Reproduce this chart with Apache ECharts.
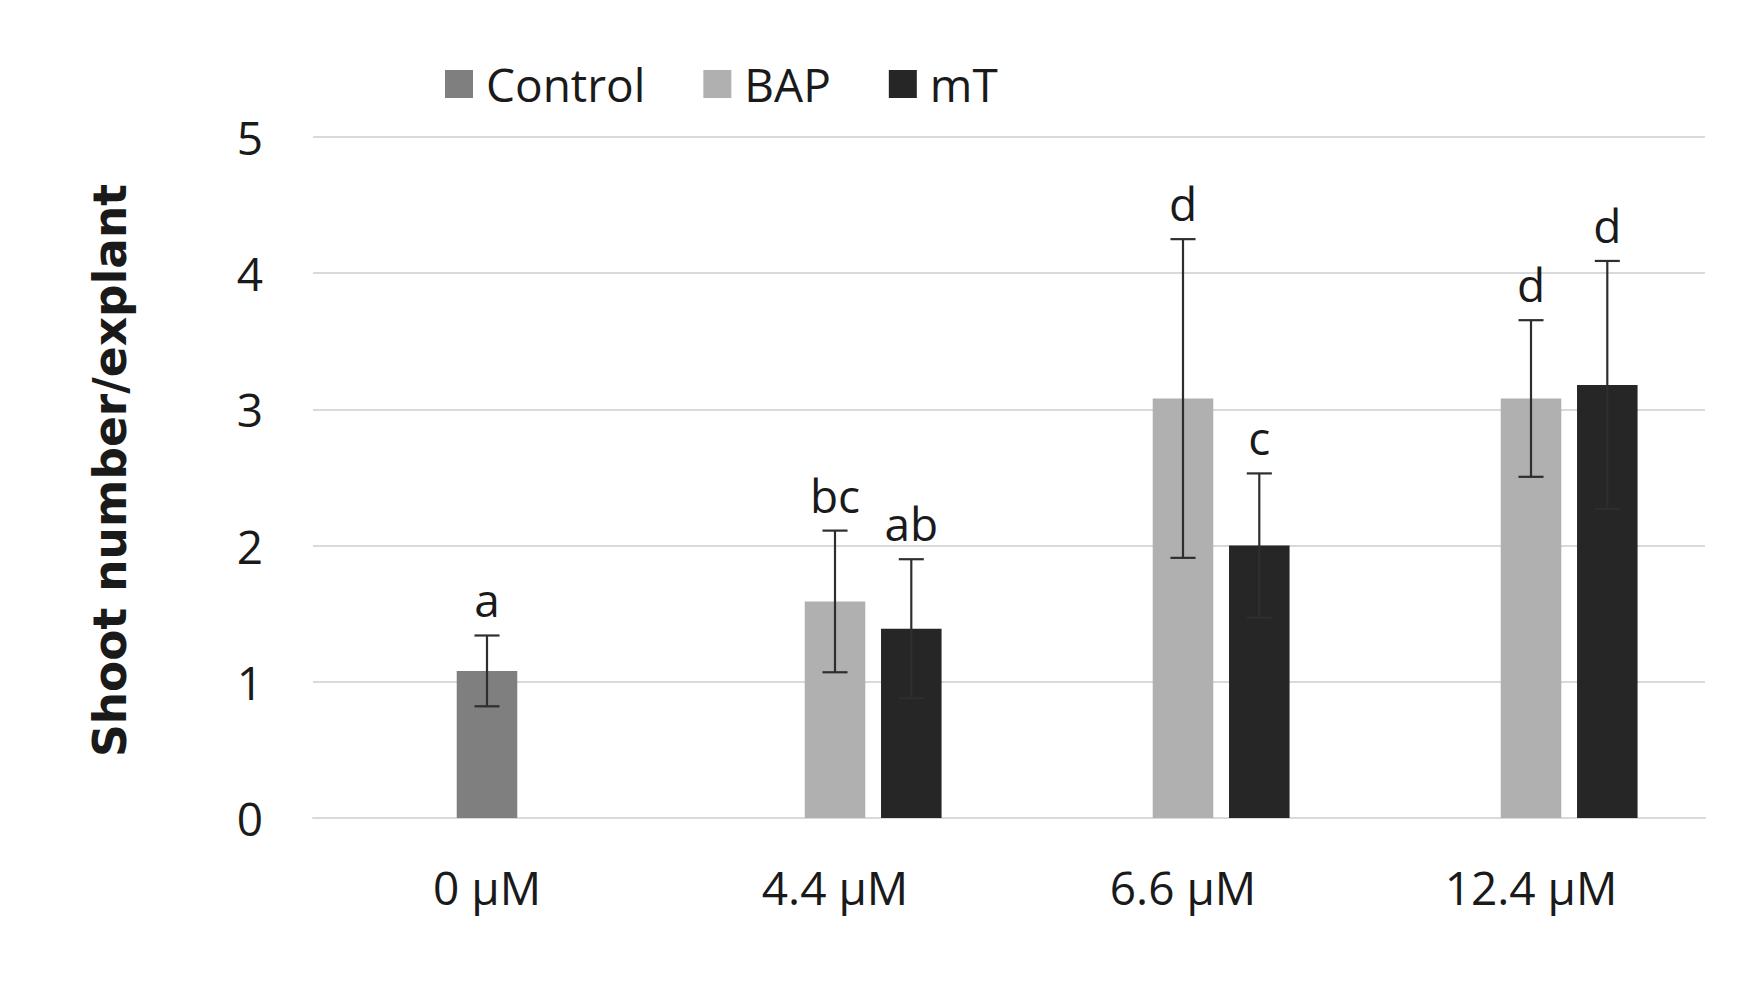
<!DOCTYPE html>
<html>
<head>
<meta charset="utf-8">
<script src="https://cdn.jsdelivr.net/npm/echarts@6/dist/echarts.min.js"></script>
<style>
html,body{margin:0;padding:0;background:#fff;}
#chart{width:1758px;height:984px;}
</style>
</head>
<body>
<div id="chart"></div>
<script>
// ---- data ----
var categories = ['0 µM', '4.4 µM', '6.6 µM', '12.4 µM'];
var yTicks = [0, 1, 2, 3, 4, 5];
var controlMean = [1.08, '-', '-', '-'];
var controlErr  = [0.26, null, null, null];
var controlLetters = ['a', '', '', ''];
var bapMean = ['-', 1.59, 3.08, 3.08];
var bapErr  = [null, 0.52, 1.17, 0.575];
var bapLetters = ['', 'bc', 'd', 'd'];
var mtMean = ['-', 1.39, 2.0, 3.18];
var mtErr  = [null, 0.51, 0.53, 0.91];
var mtLetters = ['', 'ab', 'c', 'd'];

// ---- style ----
var BAR_FRAC = 0.174;  // bar width as share of category band
var GAP_FRAC = 0.26;   // gap between bars as share of bar width
var FONT = '"Open Sans", "Noto Sans", sans-serif';
var FS = 46;

function errData(means, errs) {
  var out = [];
  for (var i = 0; i < means.length; i++) {
    if (typeof means[i] === 'number' && errs[i] != null) {
      out.push([i, means[i] - errs[i], means[i] + errs[i]]);
    }
  }
  return out;
}

function errRenderer(slot, letters) {
  return function (params, api) {
    var cat = api.value(0), lo = api.value(1), hi = api.value(2);
    var letter = letters[cat] || '';
    var band = api.size([1, 0])[0];
    var dx = slot * band * BAR_FRAC * (1 + GAP_FRAC);
    var pHi = api.coord([cat, hi]);
    var pLo = api.coord([cat, lo]);
    var x = pHi[0] + dx;
    var cap = band * 0.036;
    var st = { stroke: '#2e2e2e', lineWidth: 2.2 };
    return {
      type: 'group',
      children: [
        { type: 'line', shape: { x1: x, y1: pHi[1], x2: x, y2: pLo[1] }, style: st },
        { type: 'line', shape: { x1: x - cap, y1: pHi[1], x2: x + cap, y2: pHi[1] }, style: st },
        { type: 'line', shape: { x1: x - cap, y1: pLo[1], x2: x + cap, y2: pLo[1] }, style: st },
        { type: 'text', x: x, y: pHi[1] - 13,
          style: { x: 0, y: 0, text: letter, align: 'center', verticalAlign: 'bottom',
                   textAlign: 'center', textVerticalAlign: 'bottom',
                   font: FS + 'px ' + FONT, fontSize: FS, fontFamily: FONT, fill: '#1a1a1a' } }
      ]
    };
  };
}

var barW = (BAR_FRAC * 100) + '%';
var gapW = (GAP_FRAC * 100) + '%';
var chart = echarts.init(document.getElementById('chart'), null, { renderer: 'svg' });
chart.setOption({
  animation: false,
  backgroundColor: '#ffffff',
  legend: {
    data: ['Control', 'BAP', 'mT'],
    left: 440, top: 56,
    itemWidth: 28, itemHeight: 28, itemGap: 58,
    icon: 'rect',
    textStyle: { fontSize: FS, fontFamily: FONT, color: '#1a1a1a', padding: [0, 0, 0, 8] }
  },
  grid: { left: 313, right: 53, top: 137, bottom: 166, containLabel: false },
  xAxis: {
    type: 'category',
    data: categories,
    axisLine: { show: true, lineStyle: { color: '#d9d9d9', width: 2 } },
    axisTick: { show: false },
    axisLabel: { fontSize: FS, fontFamily: FONT, color: '#1a1a1a', margin: 46 }
  },
  yAxis: {
    type: 'value',
    min: yTicks[0], max: yTicks[yTicks.length - 1], interval: 1,
    name: 'Shoot number/explant',
    nameLocation: 'middle', nameRotate: 90, nameGap: 180,
    nameTextStyle: { fontSize: 45.5, fontWeight: 'bold', fontFamily: '"DejaVu Sans", sans-serif', color: '#1a1a1a', padding: [0, 0, 0, 14] },
    axisLine: { show: false },
    axisTick: { show: false },
    axisLabel: { fontSize: FS, fontFamily: FONT, color: '#1a1a1a', margin: 50 },
    splitLine: { lineStyle: { color: '#d9d9d9', width: 2 } }
  },
  series: [
    { name: '_slot', type: 'bar', data: ['-', '-', '-', '-'], barWidth: barW, barGap: gapW, silent: true },
    { name: 'Control', type: 'bar', stack: 'g', data: controlMean, barWidth: barW, barGap: gapW, itemStyle: { color: '#7f7f7f' } },
    { name: 'BAP', type: 'bar', stack: 'g', data: bapMean, barWidth: barW, barGap: gapW, itemStyle: { color: '#b0b0b0' } },
    { name: 'mT', type: 'bar', data: mtMean, barWidth: barW, barGap: gapW, itemStyle: { color: '#262626' } },
    { type: 'custom', renderItem: errRenderer(0, controlLetters), data: errData(controlMean, controlErr), encode: { x: 0, y: [1, 2] }, z: 10 },
    { type: 'custom', renderItem: errRenderer(0, bapLetters), data: errData(bapMean, bapErr), encode: { x: 0, y: [1, 2] }, z: 10 },
    { type: 'custom', renderItem: errRenderer(1, mtLetters), data: errData(mtMean, mtErr), encode: { x: 0, y: [1, 2] }, z: 10 }
  ]
});
</script>
</body>
</html>
